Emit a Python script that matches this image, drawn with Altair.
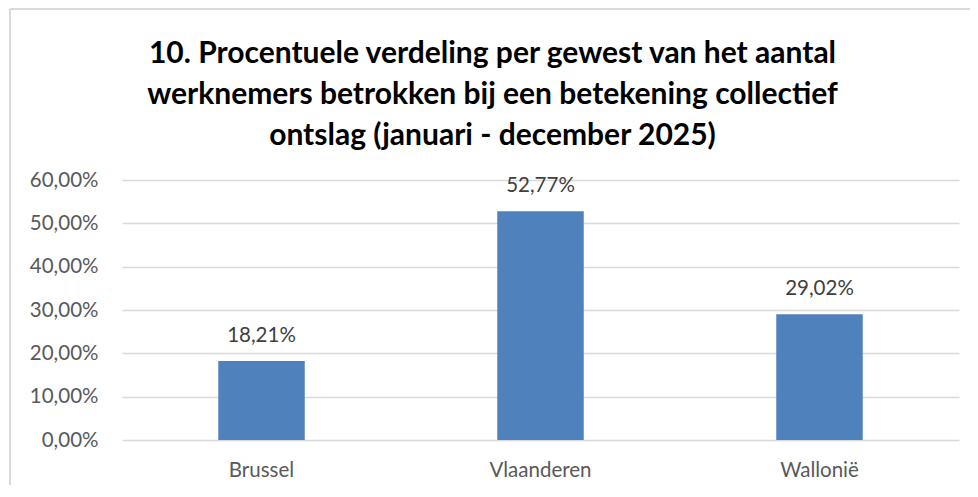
import altair as alt
import pandas as pd

regions = ["Brussel", "Vlaanderen", "Wallonië"]
shares = [0.1821, 0.5277, 0.2902]
labels = ["18,21%", "52,77%", "29,02%"]
title_lines = [
    "10. Procentuele verdeling per gewest van het aantal",
    "werknemers betrokken bij een betekening collectief",
    "ontslag (januari - december 2025)",
]
y_ticks = [0, 0.1, 0.2, 0.3, 0.4, 0.5, 0.6]

df = pd.DataFrame({"region": regions, "share": shares, "label": labels})

FONT = "Lato"
FS = 20.5

x_enc = alt.X(
    "region:N",
    sort=regions,
    title=None,
    scale=alt.Scale(paddingInner=0.69, paddingOuter=0.345),
    axis=alt.Axis(labelAngle=0, ticks=False, domain=False, grid=False, labelFontSize=FS,
                  labelColor="#595959", labelFont=FONT, labelPadding=20),
)
y_enc = alt.Y(
    "share:Q",
    title=None,
    scale=alt.Scale(domain=[0, 0.6], nice=False),
    axis=alt.Axis(values=y_ticks, labelExpr="replace(format(datum.value, '.2%'), '.', ',')",
                  ticks=False, domain=False, gridColor="#d9d9d9", gridWidth=1.5,
                  labelFontSize=FS, labelColor="#595959", labelFont=FONT, labelPadding=24),
)

base = alt.Chart(df)
bars = base.mark_bar(color="#4f81bd").encode(x=x_enc, y=y_enc)
text = base.mark_text(dy=-25, fontSize=FS, color="#404040", font=FONT, baseline="middle").encode(
    x=alt.X("region:N", sort=regions), y="share:Q", text="label:N"
)
frame_left = base.mark_rule(color="#d9d9d9", strokeWidth=1.5).encode(
    x=alt.value(-112), y=alt.value(-171), y2=alt.value(320)
)
frame_top = base.mark_rule(color="#d9d9d9", strokeWidth=1.5).encode(
    x=alt.value(-112), x2=alt.value(860), y=alt.value(-171)
)

chart = (
    alt.layer(frame_left, frame_top, bars, text)
    .properties(
        width=837,
        height=260,
        background="white",
        autosize=alt.AutoSizeParams(type="none"),
        padding={"left": 114, "top": 172, "right": 11, "bottom": 45},
        title=alt.Title(
            text=title_lines,
            anchor="middle",
            font=FONT,
            fontSize=30,
            fontWeight="bold",
            color="#000000",
            lineHeight=41,
            dx=-48,
            dy=171,
            offset=28,
        ),
    )
    .configure_view(stroke="transparent", strokeWidth=0)
)

chart.save("out.html", embed_options={"renderer": "svg", "actions": False})
